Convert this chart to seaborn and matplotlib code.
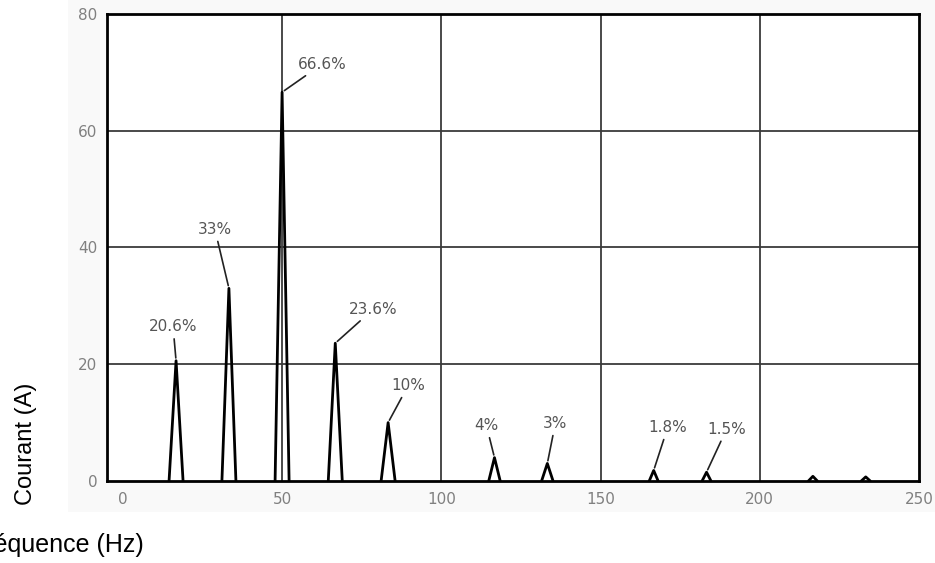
import matplotlib.pyplot as plt
from matplotlib.patches import Rectangle
import seaborn as sns
import pandas as pd

# harmonic lines (Hz, A)
freq_hz = [16.7, 33.3, 50.0, 66.7, 83.3, 116.7, 133.3, 166.7, 183.3, 216.7, 233.3]
current_a = [20.6, 33.0, 66.6, 23.6, 10.0, 4.0, 3.0, 1.8, 1.5, 0.8, 0.7]
peak_labels = ['20.6%', '33%', '66.6%', '23.6%', '10%', '4%', '3%', '1.8%', '1.5%', '', '']

x_ticks = [0, 50, 100, 150, 200, 250]
y_ticks = [0, 20, 40, 60, 80]
x_grid = [50, 100, 150, 200]
y_grid = [20, 40, 60]

# where each label sits relative to the tip of its peak (pixels)
label_offsets = [(-3, 34), (-14, 59), (40, 28), (38, 34), (20, 37),
                 (-8, 32), (8, 40), (14, 43), (20, 43), (0, 0), (0, 0)]

sns.set_style('white')

# each harmonic is drawn as a thin triangle sitting on the axis
rows = []
for i, (f, a) in enumerate(zip(freq_hz, current_a)):
    hw = 2.2 if a >= 10 else (1.8 if a >= 2.5 else 1.4)
    for x, y in [(f - hw, 0), (f, a), (f + hw, 0)]:
        rows.append({'peak': i, 'freq': x, 'amp': y})
df = pd.DataFrame(rows)

fig = plt.figure(figsize=(9.35, 5.63), dpi=100)
fig.patch.set_facecolor('white')
# faint grey backdrop of the scanned figure
fig.patches.append(Rectangle((0.0727, 0.0906), 1, 1, transform=fig.transFigure,
                             facecolor='#f9f9f9', edgecolor='none', zorder=-10))
ax = fig.add_axes([0.1144, 0.1457, 0.8684, 0.8295])
ax.set_facecolor('white')

sns.lineplot(data=df, x='freq', y='amp', units='peak', estimator=None, sort=False,
             color='black', linewidth=2.0, ax=ax, legend=False)

ax.set_xlim(-5, 250)
ax.set_ylim(0, 80)
ax.set_xticks(x_ticks)
ax.set_yticks(y_ticks)
# grid only on the inner lines, so keep minor ticks that sit on major ones
ax.xaxis.remove_overlapping_locs = False
ax.yaxis.remove_overlapping_locs = False
ax.set_xticks(x_grid, minor=True)
ax.set_yticks(y_grid, minor=True)
ax.grid(False)
ax.grid(which='minor', color='#3a3a3a', linewidth=1.3)
ax.set_axisbelow(True)
ax.tick_params(which='both', length=0)
ax.tick_params(axis='x', pad=8)
ax.tick_params(axis='y', pad=7)
for lab in ax.get_xticklabels() + ax.get_yticklabels():
    lab.set_fontsize(11)
    lab.set_color('#808080')
    lab.set_family('DejaVu Sans')
ax.set_xlabel('')
ax.set_ylabel('')

for side in ['left', 'right', 'top', 'bottom']:
    ax.spines[side].set_visible(True)
    ax.spines[side].set_color('black')
    ax.spines[side].set_linewidth(2)

for f, a, txt, off in zip(freq_hz, current_a, peak_labels, label_offsets):
    if not txt:
        continue
    ax.annotate(txt, xy=(f, a), xytext=off, textcoords='offset pixels',
                ha='center', va='center', fontsize=11, color='#555555',
                family='DejaVu Sans',
                arrowprops=dict(arrowstyle='-', color='#222222', lw=1.2,
                                shrinkA=1, shrinkB=2))

# axis titles sit outside the plot, as in the original page
fig.text(26 / 935, 1 - 444 / 563, 'Courant (A)', rotation=90, ha='center', va='center',
         fontsize=17, family='Liberation Sans', color='black')
fig.text(144 / 935, 11 / 563, 'Fréquence (Hz)', ha='right', va='baseline',
         fontsize=18, family='Liberation Sans', color='black')

fig.savefig('out.png', dpi=100)
